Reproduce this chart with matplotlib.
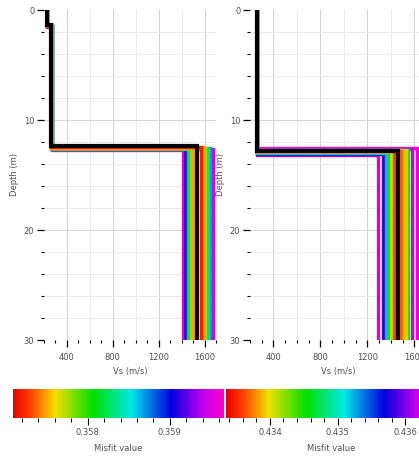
import numpy as np
import matplotlib
matplotlib.use("Agg")
import matplotlib.pyplot as plt
from matplotlib.colors import LinearSegmentedColormap, Normalize
from matplotlib.cm import ScalarMappable
from matplotlib.ticker import MultipleLocator

# --- datos: perfiles Vs (capa1, prof1, capa2, prof2, semiespacio) ---
# panel izquierdo
misfit_a = [0.3596, 0.3591, 0.3582, 0.3578, 0.3575, 0.3572, 0.3575, 0.3578, 0.3583, 0.3587, 0.3595]
vs1_a = [228, 226, 225, 225, 226, 225, 225, 224, 225, 226, 225]
z1_a = [1.5, 1.45, 1.4, 1.4, 1.4, 1.4, 1.4, 1.4, 1.4, 1.4, 1.45]
vs2_a = [268, 266, 266, 265, 265, 265, 265, 266, 265, 266, 267]
z2_a = [12.75, 12.65, 12.6, 12.55, 12.5, 12.45, 12.45, 12.5, 12.5, 12.55, 12.65]
vs3_a = [1410, 1432, 1455, 1478, 1500, 1565, 1588, 1608, 1628, 1648, 1672]
best_a = [225, 1.4, 265, 12.4, 1535]
lim_a = (0.35709, 0.35966)
ticks_a = [0.358, 0.359]

# panel derecho
misfit_b = [0.4363, 0.4358, 0.4352, 0.4346, 0.4341, 0.4336, 0.4337, 0.4339, 0.4341, 0.4345, 0.4362, 0.4364]
vs1_b = [262, 263, 261, 262, 260, 260, 260, 261, 260, 261, 262, 263]
z1_b = [0.0] * 12
vs2_b = vs1_b
z2_b = [13.15, 13.05, 13.0, 12.95, 12.9, 12.85, 12.85, 12.8, 12.75, 12.75, 12.6, 12.55]
vs3_b = [1290, 1335, 1360, 1385, 1405, 1425, 1490, 1510, 1530, 1550, 1580, 1620]
best_b = [259, 0.0, 259, 12.8, 1460]
lim_b = (0.43335, 0.43647)
ticks_b = [0.434, 0.435, 0.436]

W, H = 419, 462
fig = plt.figure(figsize=(W / 100, H / 100), dpi=100)

cmap = LinearSegmentedColormap.from_list(
    "misfit",
    [(0.0, "#e80000"), (0.08, "#ff4000"), (0.2, "#f0e000"), (0.38, "#00e000"),
     (0.56, "#00e8e8"), (0.75, "#0000e0"), (0.9, "#c000f0"), (1.0, "#ff00c8")])

FS = 6
GRIS = "#505050"


def perfil(v1, z1, v2, z2, v3):
    x = [v1, v1, v2, v2, v3, v3]
    y = [0, z1, z1, z2, z2, 30]
    return x, y


def panel(rect, misfit, vs1, z1, vs2, z2, vs3, best, lims):
    ax = fig.add_axes(rect)
    norm = Normalize(*lims)
    orden = np.argsort(misfit)[::-1]
    for i in orden:
        x, y = perfil(vs1[i], z1[i], vs2[i], z2[i], vs3[i])
        ax.plot(x, y, color=cmap(norm(misfit[i])), lw=2.4, solid_joinstyle="miter", zorder=3)
    x, y = perfil(*best)
    ax.plot(x, y, color="black", lw=3.0, solid_joinstyle="miter", zorder=4)
    ax.set_xlim(200, 1700)
    ax.set_ylim(30, 0)
    ax.xaxis.set_major_locator(MultipleLocator(400))
    ax.xaxis.set_minor_locator(MultipleLocator(100))
    ax.yaxis.set_major_locator(MultipleLocator(10))
    ax.yaxis.set_minor_locator(MultipleLocator(2))
    for v in np.arange(400, 1700, 400):
        ax.axvline(v, color="#d0d0d0", lw=0.7, zorder=1)
    for v in np.arange(600, 1700, 400):
        ax.axvline(v, color="#e8e8e8", lw=0.6, zorder=1)
    for d in np.arange(2, 30, 2):
        ax.axhline(d, color="#d0d0d0" if d % 10 == 0 else "#e8e8e8", lw=0.6, zorder=1)
    for s in ax.spines.values():
        s.set_visible(False)
    ax.tick_params(which="major", length=5, width=0.9, labelsize=FS, labelcolor=GRIS, pad=2)
    ax.tick_params(axis="x", which="major", pad=4)
    ax.tick_params(which="minor", length=2.5, width=0.8)
    ax.set_xlabel("Vs (m/s)", fontsize=FS, color=GRIS, labelpad=4)
    ax.set_ylabel("Depth (m)", fontsize=FS, color=GRIS, labelpad=3)
    return ax


def barra(rect, lims, ticks):
    cax = fig.add_axes(rect)
    sm = ScalarMappable(norm=Normalize(*lims), cmap=cmap)
    cb = fig.colorbar(sm, cax=cax, orientation="horizontal")
    cb.outline.set_visible(False)
    cb.set_ticks(ticks)
    cb.ax.xaxis.set_major_formatter(matplotlib.ticker.FormatStrFormatter("%.3f"))
    cb.ax.xaxis.set_minor_locator(MultipleLocator(0.0002))
    cb.ax.tick_params(which="major", length=5, width=0.8, labelsize=FS, labelcolor=GRIS, pad=2)
    cb.ax.tick_params(which="minor", length=3, width=0.7)
    cb.set_label("Misfit value", fontsize=FS, color=GRIS, labelpad=5)


def fr(x0, y0, x1, y1):
    return [x0 / W, 1 - y1 / H, (x1 - x0) / W, (y1 - y0) / H]


panel(fr(44, 10, 216, 340), misfit_a, vs1_a, z1_a, vs2_a, z2_a, vs3_a, best_a, lim_a)
panel(fr(250, 10, 426, 340), misfit_b, vs1_b, z1_b, vs2_b, z2_b, vs3_b, best_b, lim_b)
barra(fr(13, 389, 224, 418), lim_a, ticks_a)
barra(fr(226, 389, 437, 418), lim_b, ticks_b)

fig.savefig("out.png", dpi=100)
